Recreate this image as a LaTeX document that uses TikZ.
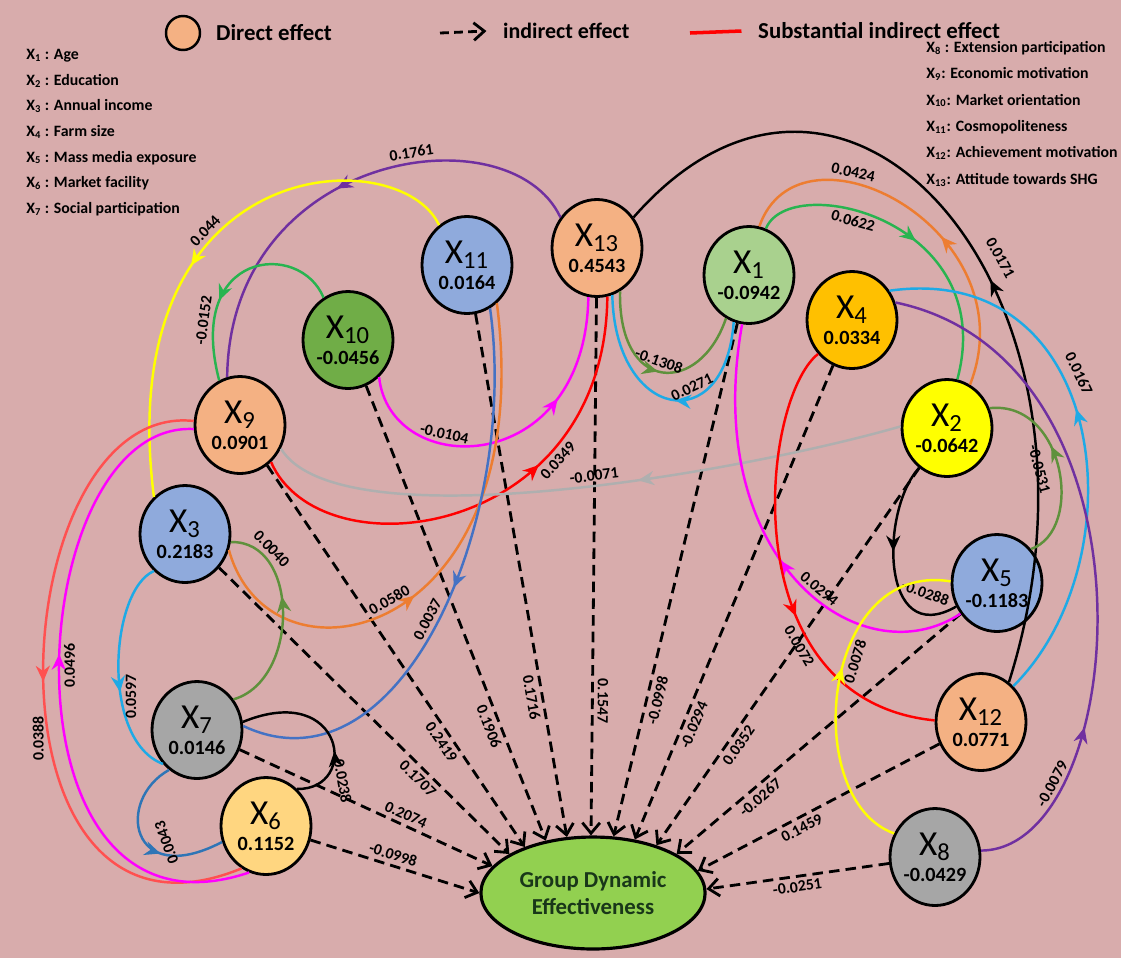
\documentclass[tikz,border=0pt]{standalone}
\usepackage{fontspec}
\setmainfont{Carlito}
\usetikzlibrary{arrows.meta,positioning,shapes.geometric,decorations.markings}

\definecolor{cbg}{RGB}{216,172,172}
\definecolor{csalmon}{RGB}{244,177,131}
\definecolor{clgreen}{RGB}{169,209,142}
\definecolor{cblue}{RGB}{143,170,220}
\definecolor{cdgreen}{RGB}{112,173,71}
\definecolor{cgold}{RGB}{255,192,0}
\definecolor{cyel}{RGB}{255,255,0}
\definecolor{cgray}{RGB}{166,166,166}
\definecolor{cpeach}{RGB}{255,214,128}
\definecolor{cgde}{RGB}{146,208,80}
\definecolor{epurple}{RGB}{112,48,160}
\definecolor{egreen}{RGB}{40,180,80}
\definecolor{emagenta}{RGB}{255,0,255}
\definecolor{ered}{RGB}{255,0,0}
\definecolor{egray}{RGB}{175,175,175}
\definecolor{eorange}{RGB}{237,125,49}
\definecolor{esteel}{RGB}{68,114,196}
\definecolor{eolive}{RGB}{95,145,60}
\definecolor{ecyan}{RGB}{30,170,230}
\definecolor{ecobalt}{RGB}{46,117,182}
\definecolor{ecoral}{RGB}{255,80,80}

\newcommand{\xlab}[1]{{\fontsize{20}{20}\selectfont\mdseries X\textsubscript{#1}}}
\newcommand{\vlab}[1]{{\fontsize{11.5}{13}\selectfont\bfseries #1}}

\tikzset{
  var/.style={ellipse, draw=black, line width=1.6pt, minimum width=1.8cm, minimum height=1.94cm, inner sep=0pt, align=center, font=\fontsize{11.5}{15}\selectfont},
  direct/.style={draw=black, line width=1.6pt, dash pattern=on 6pt off 3.5pt, -{Straight Barb[length=6pt,width=10pt]}},
  indirect/.style={line width=1.4pt, postaction={decorate, decoration={markings, mark=at position #1 with {\arrow{Stealth[length=9pt,width=8pt]}}}}},
  indirect/.default=0.5,
  lbl/.style={font=\fontsize{9}{10}\selectfont\bfseries, text=black, inner sep=2.2pt},
  legend/.style={font=\fontsize{9}{14.6}\selectfont\bfseries, align=left, inner sep=0pt}
}

\begin{document}
\begin{tikzpicture}[x=0.02cm, y=-0.02cm]
% background
\fill[cbg] (0,0) rectangle (1121,958);
\useasboundingbox (0,0) rectangle (1121,958);

% legend
\node[circle, draw=black, line width=1.4pt, fill=csalmon, minimum size=0.68cm] (lgc) at (183,33) {};
\node[right=5pt of lgc, font=\fontsize{13}{14}\selectfont\bfseries] (ldir) {Direct effect};
\coordinate (lds) at (440,33);
\node[anchor=west, font=\fontsize{12.5}{14}\selectfont\bfseries] (lind) at (497,31) {indirect effect};
\draw[direct, dash pattern=on 5pt off 3pt] (lds) -- ([xshift=-6pt]lind.west);
\coordinate (lrs) at (690,33);
\node[anchor=west, font=\fontsize{13}{14}\selectfont\bfseries] (lsub) at (752,31) {Substantial indirect effect};
\draw[ered, line width=2pt] (lrs) -- ([xshift=-6pt]lsub.west);

\node[legend, anchor=north west] (vleft) at (26,49) {X\textsubscript{1} : Age\\
X\textsubscript{2} : Education\\
X\textsubscript{3} : Annual income\\
X\textsubscript{4} : Farm size\\
X\textsubscript{5} : Mass media exposure\\
X\textsubscript{6} : Market facility\\
X\textsubscript{7} : Social participation};
\node[legend, anchor=north west, font=\fontsize{9}{15}\selectfont\bfseries] (vright) at (926,41) {X\textsubscript{8} : Extension participation\\
X\textsubscript{9}: Economic motivation\\
X\textsubscript{10}: Market orientation\\
X\textsubscript{11}: Cosmopoliteness\\
X\textsubscript{12}: Achievement motivation\\
X\textsubscript{13}: Attitude towards SHG};

% variables
\node[var, fill=csalmon] (x13) at (597,248) {\xlab{13}\\\vlab{0.4543}};
\node[var, fill=clgreen] (x1) at (749,275) {\xlab{1}\\\vlab{-0.0942}};
\node[var, fill=cblue] (x11) at (467,265) {\xlab{11}\\\vlab{0.0164}};
\node[var, fill=cdgreen] (x10) at (348,340) {\xlab{10}\\\vlab{-0.0456}};
\node[var, fill=cgold] (x4) at (852,320) {\xlab{4}\\\vlab{0.0334}};
\node[var, fill=csalmon] (x9) at (240,425) {\xlab{9}\\\vlab{0.0901}};
\node[var, fill=cyel] (x2) at (947,428) {\xlab{2}\\\vlab{-0.0642}};
\node[var, fill=cblue] (x3) at (185,534) {\xlab{3}\\\vlab{0.2183}};
\node[var, fill=cblue] (x5) at (997,583) {\xlab{5}\\\vlab{-0.1183}};
\node[var, fill=cgray] (x7) at (197,730) {\xlab{7}\\\vlab{0.0146}};
\node[var, fill=csalmon] (x12) at (981,722) {\xlab{12}\\\vlab{0.0771}};
\node[var, fill=cpeach] (x6) at (266,826) {\xlab{6}\\\vlab{0.1152}};
\node[var, fill=cgray] (x8) at (935,857) {\xlab{8}\\\vlab{-0.0429}};
\node[ellipse, draw=black, line width=1.8pt, fill=cgde, minimum width=4.24cm, minimum height=2.24cm, align=center,
  font=\fontsize{13}{15}\selectfont\bfseries, text={rgb,255:red,25;green,55;blue,25}] (gde) at (593,893) {Group Dynamic\\Effectiveness};

% direct effects
\draw[direct] (x6) -- (gde.180) node[lbl, pos=0.47, sloped, above] {-0.0998};
\draw[direct] (x7) -- (gde.165) node[lbl, pos=0.64, sloped, above] {0.2074};
\draw[direct] (x3) -- (gde.155) node[lbl, pos=0.71, sloped, below] {0.1707};
\draw[direct] (x9) -- (gde.146) node[lbl, pos=0.71, sloped, below] {0.2419};
\draw[direct] (x10) -- (gde.132) node[lbl, pos=0.74, sloped, below] {0.1906};
\draw[direct] (x11) -- (gde.115) node[lbl, pos=0.73, sloped, below] {0.1716};
\draw[direct] (x13) -- (gde.92) node[lbl, pos=0.75, sloped, above, allow upside down] {0.1547};
\draw[direct] (x1) -- (gde.70) node[lbl, pos=0.73, sloped, below] {-0.0998};
\draw[direct] (x4) -- (gde.52) node[lbl, pos=0.75, sloped, below] {-0.0294};
\draw[direct] (x2) -- (gde.37) node[lbl, pos=0.72, sloped, below] {0.0352};
\draw[direct] (x5) -- (gde.25) node[lbl, pos=0.73, sloped, below] {-0.0267};
\draw[direct] (x12) -- (gde.12) node[lbl, pos=0.59, sloped, below] {0.1459};
\draw[direct] (x8) -- (gde.2) node[lbl, pos=0.51, sloped, below] {-0.0251};

% indirect effects, left
\draw[indirect=0.52, epurple] (x13.140) .. controls (510,110) and (230,150) .. (x9.105) node[lbl, pos=0.42, sloped, above] {0.1761};
\draw[indirect=0.55, cyel] (x11.125) .. controls (400,140) and (110,150) .. (x3.130) node[lbl, pos=0.63, sloped, above] {0.044};
\draw[indirect=0.62, egreen] (x10.120) .. controls (300,240) and (185,250) .. (x9.115) node[lbl, pos=0.82, sloped, above] {-0.0152};
\draw[indirect=0.68, emagenta] (x10.-50) .. controls (390,480) and (585,480) .. (x13.-100) node[lbl, pos=0.35, sloped, above] {-0.0104};
\draw[indirect=0.62, ered] (x9.-50) .. controls (320,575) and (605,540) .. (x13.-78) node[lbl, pos=0.72, sloped, below] {0.0349};
\draw[indirect=0.42, egray] (x2.178) .. controls (750,470) and (340,545) .. (x9.-30) node[lbl, pos=0.45, sloped, above] {-0.0071};
\draw[indirect=0.42, eorange] (x3.-20) .. controls (270,700) and (540,640) .. (x11.-52) node[lbl, pos=0.5, sloped, above] {0.0580};
\draw[indirect=0.5, esteel] (x11.-62) .. controls (520,520) and (400,800) .. (x7.5) node[lbl, pos=0.5, sloped, above] {0.0037};
\draw[indirect=0.6, eolive] (x7.40) .. controls (300,680) and (300,540) .. (x3.-10) node[lbl, pos=0.8, sloped, above] {0.0040};
\draw[indirect=0.6, ecyan] (x3.-130) .. controls (110,590) and (100,740) .. (x7.-135) node[lbl, pos=0.62, anchor=north, rotate=90] {0.0597};
\draw[indirect=0.62, ecobalt] (x7.-125) .. controls (115,800) and (130,890) .. (x6.-160) node[lbl, pos=0.6, xshift=5pt, anchor=north, rotate=110] {0.0043};
\draw[indirect=0.35, black] (x6.50) .. controls (360,790) and (345,680) .. (x7.10) node[lbl, pos=0.15, xshift=7pt, anchor=south, rotate=-80] {0.0238};
\draw[indirect=0.5, ecoral] (x9.175) .. controls (0,400) and (-30,980) .. (x6.-120) node[lbl, pos=0.58, anchor=south, rotate=90] {0.0388};
\draw[indirect=0.55, emagenta] (x6.-110) .. controls (-10,960) and (20,420) .. (x9.185) node[lbl, pos=0.52, anchor=north, rotate=90] {0.0496};

% indirect effects, right
\draw[indirect=0.48, black] (x12.55) .. controls (1130,300) and (850,-30) .. (x13.40) node[lbl, pos=0.42, sloped, above=5pt] {0.0171};
\draw[indirect=0.42, eorange] (x2.62) .. controls (1030,230) and (800,110) .. (x1.78) node[lbl, pos=0.65, sloped, above] {0.0424};
\draw[indirect=0.52, egreen] (x1.70) .. controls (790,170) and (1000,220) .. (x2.78) node[lbl, pos=0.4, sloped, below] {0.0622};
\draw[indirect=0.5, eolive] (x13.-62) .. controls (618,395) and (700,395) .. (x1.-118) node[lbl, pos=0.45, sloped, above] {-0.1308};
\draw[indirect=0.45, ecyan] (x1.-108) .. controls (725,440) and (615,420) .. (x13.-72) node[lbl, pos=0.35, sloped, above] {0.0271};
\draw[indirect=0.46, emagenta] (x5.-140) .. controls (860,680) and (700,560) .. (x1.-98) node[lbl, pos=0.45, sloped, above] {0.0294};
\draw[indirect=0.6, ered] (x4.-135) .. controls (760,400) and (730,700) .. (x12.178) node[lbl, pos=0.7, sloped, below] {0.0072};
\draw[indirect=0.45, black] (x2.-125) .. controls (880,510) and (880,650) .. (x5.-150) node[lbl, pos=0.78, xshift=3pt, yshift=5pt, anchor=south, rotate=-20] {-0.0288};
\draw[indirect=0.55, cyel] (x8.150) .. controls (800,800) and (820,560) .. (x5.178) node[lbl, pos=0.58, sloped, below, allow upside down] {0.0078};
\draw[indirect=0.6, eolive] (x5.45) .. controls (1085,530) and (1065,400) .. (x2.25) node[lbl, pos=0.52, sloped, below=5pt] {-0.0531};
\draw[indirect=0.55, ecyan] (x12.48) .. controls (1140,560) and (1110,260) .. (x4.38) node[lbl, pos=0.6, sloped, above=3pt] {0.0167};
\draw[indirect=0.25, epurple] (x8.8) .. controls (1130,850) and (1170,360) .. (x4.22) node[lbl, pos=0.22, sloped, above] {-0.0079};
\end{tikzpicture}
\end{document}
